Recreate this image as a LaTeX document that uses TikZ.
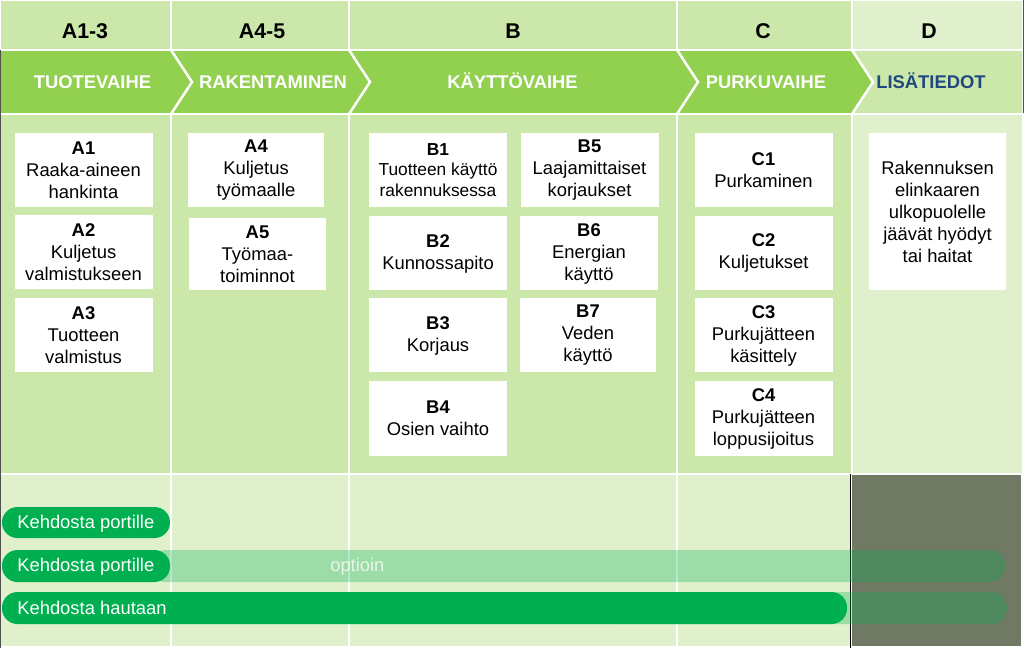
\documentclass[tikz,border=0pt]{standalone}
\usepackage{fontspec}
\setmainfont{Liberation Sans}
\definecolor{hdr}{HTML}{CCE7AA}
\definecolor{band}{HTML}{92D050}
\definecolor{pale}{HTML}{E0F0CC}
\definecolor{dgray}{HTML}{6F7964}
\definecolor{barg}{HTML}{00B050}
\definecolor{navy}{HTML}{1F497D}
\definecolor{edge}{HTML}{505050}
\tikzset{
  box/.style={fill=white, minimum width=103.5pt, minimum height=55.5pt, inner sep=0pt, align=center,
    font=\fontsize{13.8}{16.5}\selectfont},
  hdrtxt/.style={anchor=base, inner sep=0pt, font=\fontsize{16}{19}\selectfont\bfseries},
  bandtxt/.style={anchor=base, inner sep=0pt, font=\fontsize{13.8}{16}\selectfont\bfseries, text=white},
  bartxt/.style={anchor=base west, inner sep=0pt, font=\fontsize{13.8}{16}\selectfont, text=white},
  chev/.style={draw=white, line width=1.9pt},
  pillr/.style={rounded corners=11.6pt},
}
\begin{document}
\begin{tikzpicture}[x=0.75pt,y=-0.75pt]
\useasboundingbox (0,0) rectangle (1024,648);
\fill[white] (0,0) rectangle (1024,648);
% header row
\fill[hdr] (1,1.5) rectangle (170,49);
\fill[hdr] (172,1.5) rectangle (348,49);
\fill[hdr] (350,1.5) rectangle (676,49);
\fill[hdr] (678,1.5) rectangle (851,49);
\fill[pale] (853,1.5) rectangle (1022,49);
% band
\fill[band] (1,51) rectangle (1022,113);
\fill[hdr] (852,51) -- (1022,51) -- (1022,113) -- (852,113) -- (873,82) -- cycle;
\draw[chev] (171,50) -- (192,82) -- (171,114);
\draw[chev] (349,50) -- (370,82) -- (349,114);
\draw[chev] (677,50) -- (698,82) -- (677,114);
\draw[chev] (852,50) -- (873,82) -- (852,114);
% row 3
\fill[hdr] (1,115) rectangle (170,473);
\fill[hdr] (172,115) rectangle (348,473);
\fill[hdr] (350,115) rectangle (676,473);
\fill[hdr] (678,115) rectangle (851,473);
\fill[pale] (853,115) rectangle (1022,473);
% row 4
\fill[pale] (1,475) rectangle (170,646);
\fill[pale] (172,475) rectangle (348,646);
\fill[pale] (350,475) rectangle (676,646);
\fill[pale] (678,475) rectangle (850,646);
\fill[dgray] (852,475) rectangle (1021,646);
\draw[black, line width=0.9pt] (850.8,474) -- (850.8,648);
\draw[edge, line width=0.9pt] (0.6,50) -- (0.6,648);
\draw[edge, line width=0.9pt] (1023.4,0) -- (1023.4,113);
% header texts
\node[hdrtxt] (hA) at (85,38.3) {A1-3};
\node[hdrtxt] (hA4) at (262,38.3) {A4-5};
\node[hdrtxt] (hB) at (513,38.3) {B};
\node[hdrtxt] (hC) at (763,38.3) {C};
\node[hdrtxt] (hD) at (929,38.3) {D};
% band texts
\node[bandtxt] (p1) at (92.5,88.3) {TUOTEVAIHE};
\node[bandtxt] (p2) at (273,88.3) {RAKENTAMINEN};
\node[bandtxt] (p3) at (512.5,88.3) {KÄYTTÖVAIHE};
\node[bandtxt] (p4) at (766,88.3) {PURKUVAIHE};
\node[bandtxt, text=navy] (p5) at (931,88.3) {LISÄTIEDOT};
% boxes A
\node[box] (A1) at (83.5,170) {\textbf{A1}\\Raaka-aineen\\hankinta};
\node[box] (A2) at (83.5,252.5) {\textbf{A2}\\Kuljetus\\valmistukseen};
\node[box] (A3) at (83.5,335.5) {\textbf{A3}\\Tuotteen\\valmistus};
\node[box, minimum width=102pt] (A4) at (256,170) {\textbf{A4}\\Kuljetus\\työmaalle};
\node[box, minimum width=102.75pt, minimum height=54pt] (A5) at (257.5,254) {\textbf{A5}\\Työmaa-\\toiminnot};
% boxes B
\node[box, font=\fontsize{13}{15.5}\selectfont] (B1) at (438,170) {\textbf{B1}\\Tuotteen käyttö\\rakennuksessa};
\node[box] (B2) at (438,253.5) {\textbf{B2}\\Kunnossapito};
\node[box] (B3) at (438,335.5) {\textbf{B3}\\Korjaus};
\node[box] (B4) at (438,418.5) {\textbf{B4}\\Osien vaihto};
\node[box] (B5) at (589.5,170) {\textbf{B5}\\Laajamittaiset\\korjaukset};
\node[box] (B6) at (589,253.5) {\textbf{B6}\\Energian\\käyttö};
\node[box, minimum width=102pt] (B7) at (588,335.5) {\textbf{B7}\\Veden\\käyttö};
% boxes C
\node[box] (C1) at (763.5,170) {\textbf{C1}\\Purkaminen};
\node[box] (C2) at (763.5,253) {\textbf{C2}\\Kuljetukset};
\node[box] (C3) at (763.5,335.5) {\textbf{C3}\\Purkujätteen\\käsittely};
\node[box] (C4) at (763.5,418.5) {\textbf{C4}\\Purkujätteen\\loppusijoitus};
% box D
\node[box, minimum width=102.75pt, minimum height=117.75pt] (D1) at (937.5,211.5) {Rakennuksen\\elinkaaren\\ulkopuolelle\\jäävät hyödyt\\tai haitat};
% bars
\fill[barg, pillr] (2,507) rectangle (170,538);
\fill[barg, opacity=0.3, pillr] (150,550) rectangle (1005,582);
\fill[barg, pillr] (2,550) rectangle (170,582);
\fill[barg, opacity=0.3, pillr] (600,592) rectangle (1007,624);
\fill[barg, pillr] (2,592) rectangle (847,624);
\node[bartxt] (k1) at (17,528.3) {Kehdosta portille};
\node[bartxt] (k2) at (17,571.7) {Kehdosta portille};
\node[bartxt, text opacity=0.75] (opt) at (330,571.7) {optioin};
\node[bartxt] (k3) at (17,614) {Kehdosta hautaan};
\end{tikzpicture}
\end{document}
